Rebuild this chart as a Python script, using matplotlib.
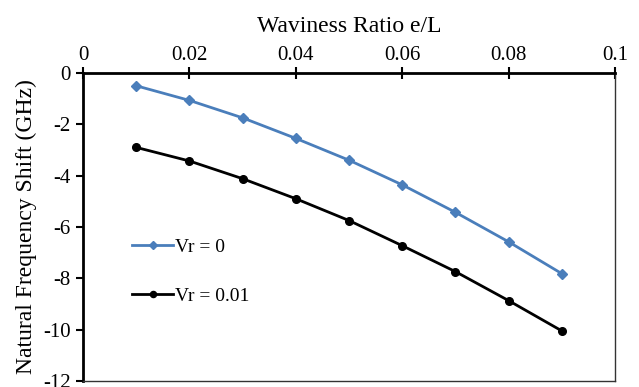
import numpy as np
import matplotlib.pyplot as plt

plt.rcParams["font.family"] = ["Liberation Serif", "DejaVu Serif"]

ratio = [0.01, 0.02, 0.03, 0.04, 0.05, 0.06, 0.07, 0.08, 0.09]
shift_vr0 = [-0.5, -1.07, -1.75, -2.55, -3.4, -4.36, -5.43, -6.58, -7.82]
shift_vr001 = [-2.9, -3.43, -4.12, -4.9, -5.75, -6.73, -7.74, -8.87, -10.05]

fig = plt.figure(figsize=(6.39, 3.87), dpi=100)
ax = fig.add_axes([0.130, 0.0155, 0.8326, 0.796])

ax.plot(ratio, shift_vr0, color="#4a7ebb", lw=2, marker="D", ms=5, label="Vr = 0")
ax.plot(ratio, shift_vr001, color="black", lw=2, marker="o", ms=5.5, label="Vr = 0.01")

ax.set_xlim(0, 0.1)
ax.set_ylim(-12, 0)
ax.set_xticks(np.arange(0, 0.101, 0.02))
ax.set_xticklabels(["0", "0.02", "0.04", "0.06", "0.08", "0.1"])
ax.set_yticks(np.arange(-12, 0.1, 2))
ax.set_yticklabels([str(v) for v in range(-12, 1, 2)])

ax.xaxis.tick_top()
ax.xaxis.set_label_position("top")
ax.tick_params(axis="x", direction="inout", length=9, width=1.5, labelsize=15, pad=1)
ax.tick_params(axis="y", direction="out", length=5, width=1.5, labelsize=15, pad=4)

ax.set_xlabel("Waviness Ratio e/L", fontsize=17, labelpad=10)
ax.set_ylabel("Natural Frequency Shift (GHz)", fontsize=17, labelpad=4)

for s in ["top", "left"]:
    ax.spines[s].set_linewidth(2)
    ax.spines[s].set_color("black")
for s in ["bottom", "right"]:
    ax.spines[s].set_linewidth(1)
    ax.spines[s].set_color("#333333")

ax.legend(loc="lower left", bbox_to_anchor=(0.06, 0.19), frameon=False,
          fontsize=14, handlelength=2.1, labelspacing=1.6, handletextpad=0.1,
          markerscale=0.8)

fig.savefig("out.png", dpi=100)
